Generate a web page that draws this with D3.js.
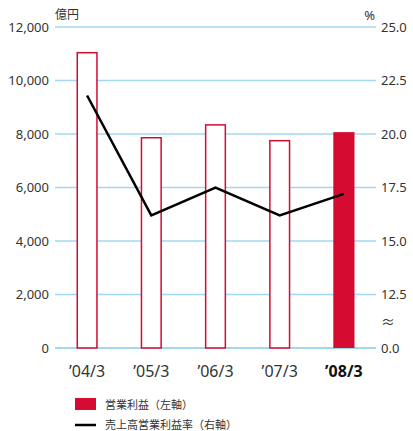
<!DOCTYPE html>
<html>
<head>
<meta charset="utf-8">
<script src="https://cdn.jsdelivr.net/npm/d3@7"></script>
<style>
  body { margin: 0; background: #fff; }
  text { font-family: "Noto Sans", "Noto Sans CJK JP", sans-serif; fill: #333; }
</style>
</head>
<body>
<script>
// chart data
var years = ["’04/3", "’05/3", "’06/3", "’07/3", "’08/3"];
var profit = [11040, 7860, 8340, 7750, 8070];      // 営業利益 (億円, 左軸)
var margin = [21.8, 16.2, 17.5, 16.2, 17.2];        // 売上高営業利益率 (%, 右軸)
var leftTicks = [0, 2000, 4000, 6000, 8000, 10000, 12000];
var rightTicks = [10, 12.5, 15, 17.5, 20, 22.5, 25];
var rightTickLabels = ["0.0", "12.5", "15.0", "17.5", "20.0", "22.5", "25.0"];
var legendItems = ["営業利益（左軸）", "売上高営業利益率（右軸）"];

var w = 413, h = 431;
var plotLeft = 55, plotRight = 376, plotTop = 27, plotBottom = 348;
var red = "#d50b32";

window.onload = function(){

    var svg = d3.select("body")
        .append("svg")
        .attr("width", w)
        .attr("height", h);

    var x = d3.scaleBand()
        .domain(years)
        .range([plotLeft, plotRight])
        .paddingInner(0.67)
        .paddingOuter(0.335);

    var y = d3.scaleLinear()
        .domain([0, 12000])
        .range([plotBottom, plotTop]);

    // right axis is broken: 0.0 at the bottom, 12.5-25.0 above
    var y2 = d3.scaleLinear()
        .domain([10, 25])
        .range([plotBottom, plotTop]);

    //gridlines
    svg.selectAll(".grid")
        .data(leftTicks)
        .enter()
        .append("line")
        .attr("x1", plotLeft)
        .attr("x2", plotRight)
        .attr("y1", function(d){ return y(d); })
        .attr("y2", function(d){ return y(d); })
        .style("stroke", "#a3d8f2")
        .style("stroke-width", function(d){ return d == 0 ? 2 : 1.3; });

    //left axis
    var yAxis = d3.axisLeft(y)
        .tickValues(leftTicks)
        .tickSize(0)
        .tickPadding(6)
        .tickFormat(d3.format(","));
    svg.append("g")
        .attr("transform", "translate(" + plotLeft + ",0)")
        .call(yAxis)
        .call(function(g){ g.select(".domain").remove(); })
        .selectAll("text")
        .style("font-size", "13px")
        .style("fill", "#333");

    //right axis
    var yAxis2 = d3.axisRight(y2)
        .tickValues(rightTicks)
        .tickSize(0)
        .tickPadding(5)
        .tickFormat(function(d, i){ return rightTickLabels[i]; });
    svg.append("g")
        .attr("transform", "translate(" + plotRight + ",0)")
        .call(yAxis2)
        .call(function(g){ g.select(".domain").remove(); })
        .selectAll("text")
        .style("font-size", "13px")
        .style("fill", "#333");

    //break mark
    svg.append("text")
        .attr("x", 388)
        .attr("y", 327)
        .attr("text-anchor", "middle")
        .style("font-size", "14px")
        .text("≈");

    //unit labels
    svg.append("text")
        .attr("x", plotLeft)
        .attr("y", 19)
        .style("font-size", "12px")
        .text("億円");
    svg.append("text")
        .attr("x", plotRight - 1)
        .attr("y", 20)
        .attr("text-anchor", "end")
        .style("font-size", "13px")
        .text("%");

    //bars
    svg.selectAll(".bar")
        .data(profit)
        .enter()
        .append("rect")
        .attr("class", "bar")
        .attr("x", function(d, i){ return x(years[i]) + (i == 4 ? 0 : 0.75); })
        .attr("width", function(d, i){ return x.bandwidth() - (i == 4 ? 0 : 1.5); })
        .attr("y", function(d){ return y(d); })
        .attr("height", function(d){ return plotBottom - y(d); })
        .style("fill", function(d, i){ return i == 4 ? red : "#fff"; })
        .style("stroke", function(d, i){ return i == 4 ? "none" : red; })
        .style("stroke-width", 1.5);

    //margin line
    var line = d3.line()
        .x(function(d, i){ return x(years[i]) + x.bandwidth() / 2; })
        .y(function(d){ return y2(d); });
    svg.append("path")
        .datum(margin)
        .attr("d", line)
        .style("fill", "none")
        .style("stroke", "#000")
        .style("stroke-width", 2.5);

    //x labels
    svg.selectAll(".xlabel")
        .data(years)
        .enter()
        .append("text")
        .attr("class", "xlabel")
        .attr("x", function(d){ return x(d) + x.bandwidth() / 2; })
        .attr("y", 377)
        .attr("text-anchor", "middle")
        .style("font-size", "16px")
        .style("font-weight", function(d, i){ return i == 4 ? "bold" : "normal"; })
        .style("fill", function(d, i){ return i == 4 ? "#111" : "#333"; })
        .text(function(d){ return d; });

    //legend
    svg.append("rect")
        .attr("x", 75)
        .attr("y", 398)
        .attr("width", 21)
        .attr("height", 12)
        .style("fill", red);
    svg.append("line")
        .attr("x1", 75)
        .attr("x2", 96)
        .attr("y1", 425)
        .attr("y2", 425)
        .style("stroke", "#000")
        .style("stroke-width", 2.5);
    svg.selectAll(".legend")
        .data(legendItems)
        .enter()
        .append("text")
        .attr("class", "legend")
        .attr("x", 105)
        .attr("y", function(d, i){ return 409 + i * 20; })
        .style("font-size", "11px")
        .text(function(d){ return d; });
};
</script>
</body>
</html>
